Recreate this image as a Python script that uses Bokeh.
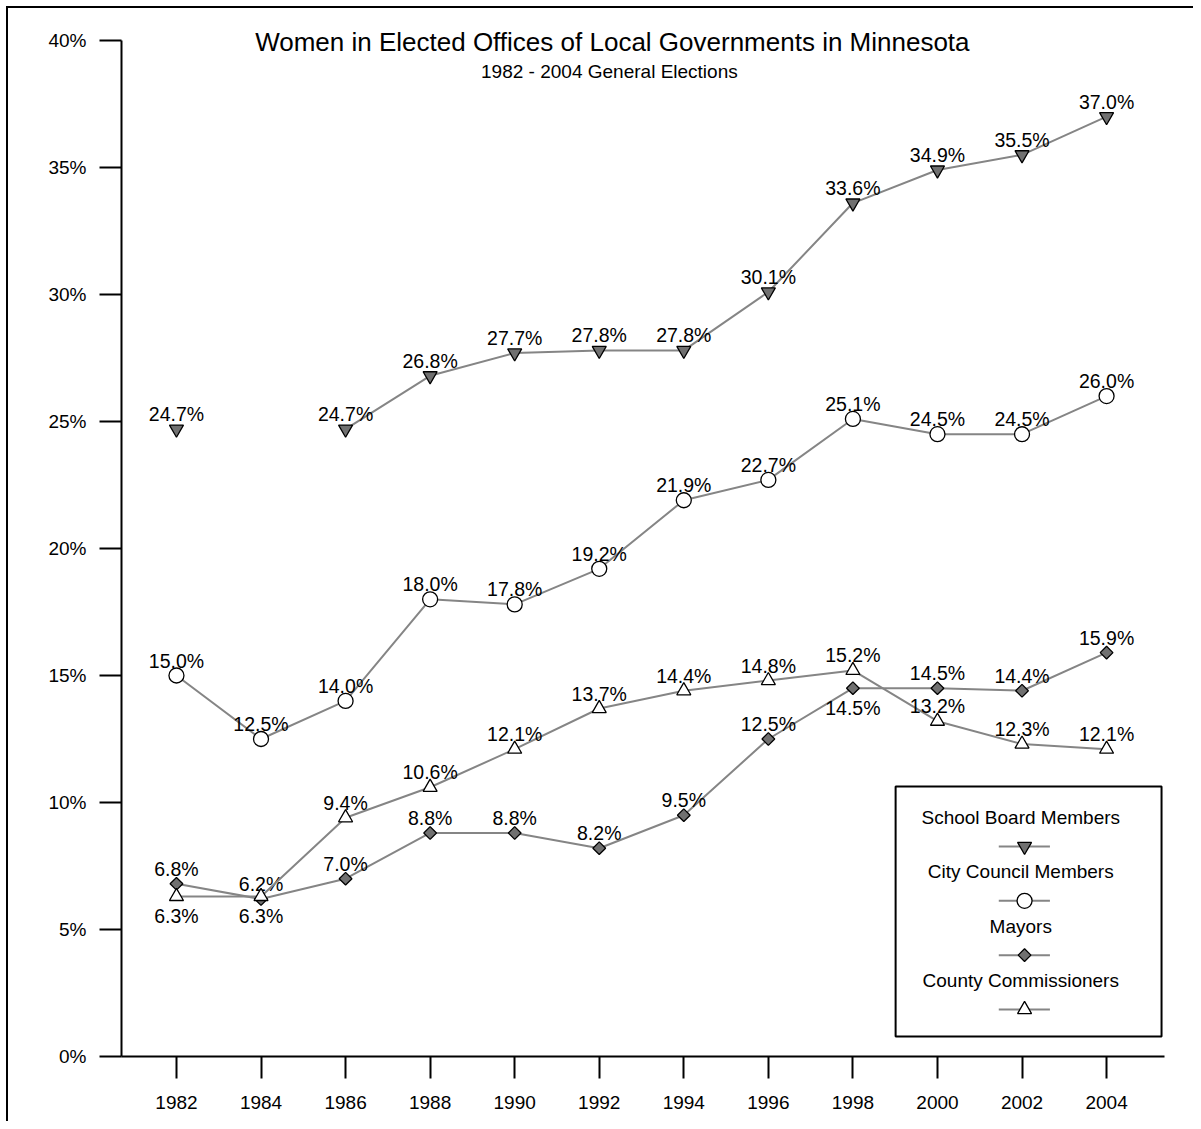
import numpy as np
from bokeh.plotting import figure
from bokeh.models import ColumnDataSource, FixedTicker, Label, BoxAnnotation
from bokeh.core.properties import value
from bokeh.embed import file_html
from bokeh.resources import INLINE

# ---------------- data ----------------
years = [1982, 1984, 1986, 1988, 1990, 1992, 1994, 1996, 1998, 2000, 2002, 2004]
school_board = [24.7, None, 24.7, 26.8, 27.7, 27.8, 27.8, 30.1, 33.6, 34.9, 35.5, 37.0]
city_council = [15.0, 12.5, 14.0, 18.0, 17.8, 19.2, 21.9, 22.7, 25.1, 24.5, 24.5, 26.0]
mayors = [6.8, 6.2, 7.0, 8.8, 8.8, 8.2, 9.5, 12.5, 14.5, 14.5, 14.4, 15.9]
county_commissioners = [6.3, 6.3, 9.4, 10.6, 12.1, 13.7, 14.4, 14.8, 15.2, 13.2, 12.3, 12.1]
series_names = ["School Board Members", "City Council Members", "Mayors", "County Commissioners"]
y_ticks = [0, 5, 10, 15, 20, 25, 30, 35, 40]
y_tick_labels = ["0%", "5%", "10%", "15%", "20%", "25%", "30%", "35%", "40%"]
x_tick_labels = ["1982", "1984", "1986", "1988", "1990", "1992", "1994", "1996", "1998", "2000", "2002", "2004"]
title_text = "Women in Elected Offices of Local Governments in Minnesota"
subtitle_text = "1982 - 2004 General Elections"

# label placement (style): above / below the marker
school_pos = ["above"] * 12
council_pos = ["above"] * 12
mayors_pos = ["above"] * 8 + ["below"] + ["above"] * 3
county_pos = ["below", "below"] + ["above"] * 10

FONT = "Liberation Sans"
LINE_GRAY = "#858585"
MARK_GRAY = "#707070"

p = figure(
    frame_width=1043, frame_height=1054,
    min_border_left=121, min_border_right=29, min_border_top=2, min_border_bottom=65,
    x_range=(1980.70, 2005.37), y_range=(0, 1054 / 25.4),
    output_backend="svg", toolbar_location=None,
    background_fill_color=None, border_fill_color=None,
    styles={"box-shadow": "inset 6px 6px 0 0 white, inset 8px 8px 0 0 black",
            "background-color": "white"},
)
p.outline_line_color = None
p.grid.visible = False

# axes
for ax in (p.xaxis[0], p.yaxis[0]):
    ax.axis_line_width = 2
    ax.axis_line_color = "black"
    ax.major_tick_line_width = 2
    ax.major_tick_line_color = "black"
    ax.major_tick_out = 22
    ax.major_tick_in = 0
    ax.minor_tick_line_color = None
    ax.major_label_text_font = FONT
    ax.major_label_text_font_size = "19px"
    ax.major_label_text_color = "black"

p.xaxis.ticker = FixedTicker(ticks=years)
p.xaxis.major_label_overrides = {y: lab for y, lab in zip(years, x_tick_labels)}
p.xaxis.major_label_standoff = 17
p.yaxis.ticker = FixedTicker(ticks=y_ticks)
p.yaxis.major_label_overrides = {t: lab for t, lab in zip(y_ticks, y_tick_labels)}
p.yaxis.major_label_standoff = 13
p.yaxis.bounds = (0, 40)

# series styles
styles = [
    dict(marker="inverted_triangle", size=14, fill_color=MARK_GRAY, angle=0.0),
    dict(marker="circle", size=15, fill_color="white", angle=0.0),
    dict(marker="square", size=9, fill_color=MARK_GRAY, angle=np.pi / 4),
    dict(marker="triangle", size=14, fill_color="white", angle=0.0),
]
all_values = [school_board, city_council, mayors, county_commissioners]
all_pos = [school_pos, council_pos, mayors_pos, county_pos]

for vals, pos, st in zip(all_values, all_pos, styles):
    yv = [np.nan if v is None else v for v in vals]
    labels = ["" if v is None else f"{v:.1f}%" for v in vals]
    yoff = [-15 if ps == "above" else 20 for ps in pos]
    src = ColumnDataSource(dict(x=years, y=yv, label=labels, yoff=yoff))
    p.line("x", "y", source=src, line_color=LINE_GRAY, line_width=2)
    p.scatter("x", "y", source=src, marker=st["marker"], size=st["size"],
              fill_color=st["fill_color"], line_color="black", line_width=1.3,
              angle=st["angle"])
    p.text("x", "y", text="label", source=src, text_font=value(FONT),
           text_font_size="19.5px", text_align="center", text_baseline="alphabetic",
           y_offset="yoff", text_color="black")

# title & subtitle
p.add_layout(Label(x=1992.31, y=39.96, text=title_text, text_font=FONT,
                   text_font_size="26px", text_align="center", text_baseline="middle",
                   text_color="black"))
p.add_layout(Label(x=1992.24, y=38.76, text=subtitle_text, text_font=FONT,
                   text_font_size="19px", text_align="center", text_baseline="middle",
                   text_color="black"))

# legend (label above its sample, as in the reference)
p.add_layout(BoxAnnotation(left=1999.01, right=2005.30, top=10.63, bottom=0.79,
                           fill_color="white", fill_alpha=1.0, line_color="black",
                           line_alpha=1.0, line_width=2, level="underlay"))
for i, (name, st) in enumerate(zip(series_names, styles)):
    ty = 9.41 - i * 2.14
    gy = ty - 1.14
    p.add_layout(Label(x=2001.97, y=ty, text=name, text_font=FONT,
                       text_font_size="19px", text_align="center", text_baseline="middle",
                       text_color="black"))
    p.line([2001.45, 2002.66], [gy, gy], line_color=LINE_GRAY, line_width=2)
    p.scatter([2002.06], [gy], marker=st["marker"], size=st["size"],
              fill_color=st["fill_color"], line_color="black", line_width=1.3,
              angle=st["angle"])

open("out.html", "w").write(file_html(p, INLINE))
